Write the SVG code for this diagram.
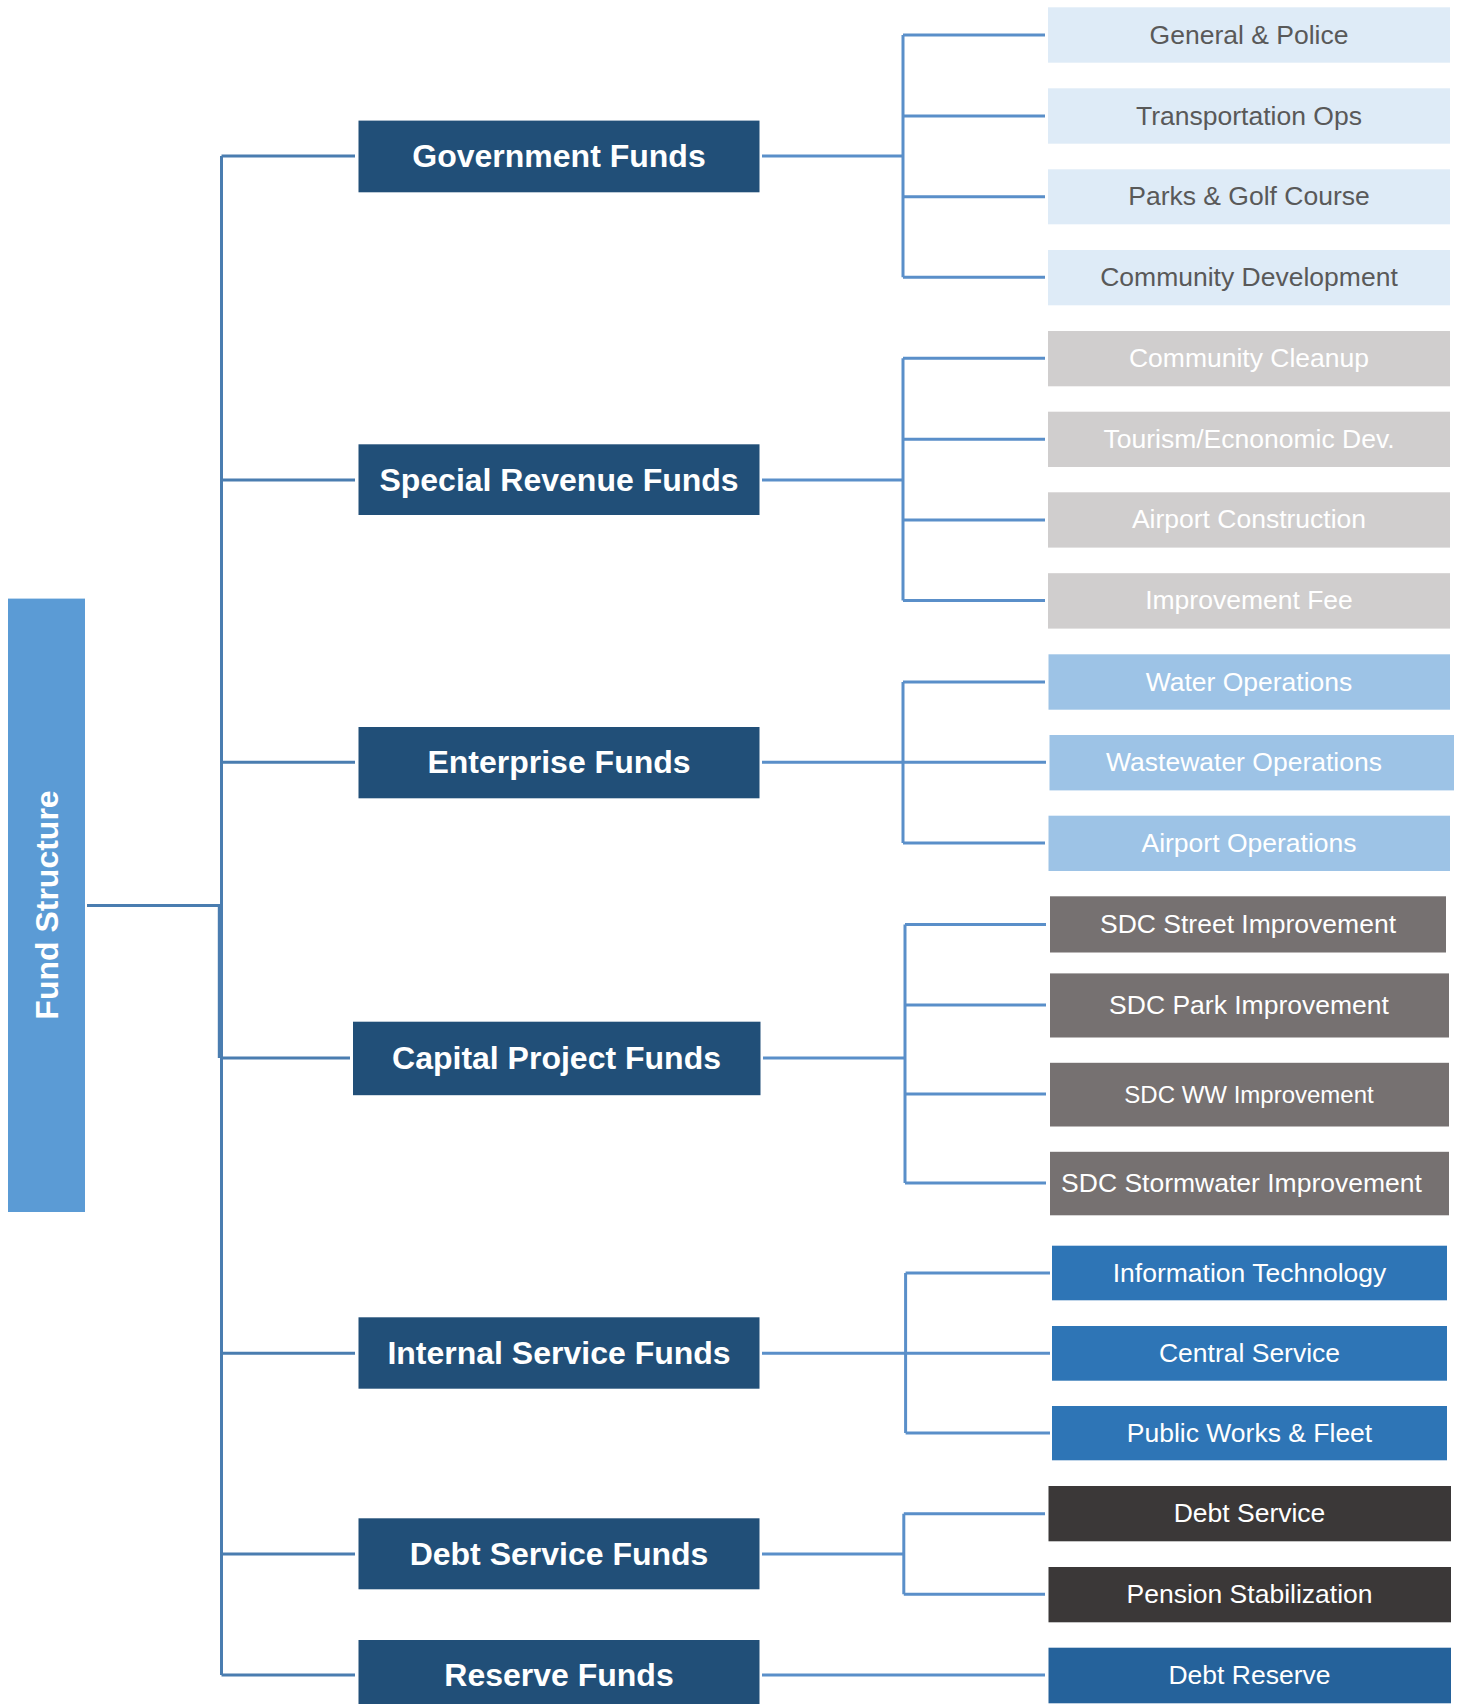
<svg xmlns="http://www.w3.org/2000/svg" width="1458" height="1704" viewBox="0 0 1458 1704">
<style>
  .l1 { fill: #214F78; }
  .l1t { font-family: "Liberation Sans", Arial, sans-serif; font-weight: bold; font-size: 32px; fill: #FFFFFF; text-anchor: middle; }
  .lt { font-family: "Liberation Sans", Arial, sans-serif; font-size: 26.5px; fill: #FFFFFF; text-anchor: middle; }
  .gov { fill: #DEEBF7; }
  .govt { fill: #595959; }
  .sr { fill: #D0CECE; }
  .ent { fill: #9DC3E6; }
  .cap { fill: #767171; }
  .isf { fill: #2E75B6; }
  .dsf { fill: #3B3838; }
  .res { fill: #25629B; }
  .c1 { fill: none; stroke: #4A7DB0; stroke-width: 3; }
  .c2 { fill: none; stroke: #5A8FC9; stroke-width: 3; }
</style>
<rect width="1458" height="1704" fill="#FFFFFF"/>

<g id="connectors">
  <!-- root to level 1 -->
  <path class="c1" d="M87 905.4 H220.5 M219.3 905.4 V1058"/>
  <path class="c1" d="M221.5 156 V1675"/>
  <path class="c1" d="M221.5 156 H355 M221.5 480 H355 M221.5 762.3 H355 M221.5 1058 H350 M221.5 1353.3 H355 M221.5 1554 H355 M221.5 1675 H355"/>
  <!-- government -->
  <path class="c2" d="M762 156 H903 M903 35 V277.3 M903 35 H1045 M903 116 H1045 M903 196.7 H1045 M903 277.3 H1045"/>
  <!-- special revenue -->
  <path class="c2" d="M762 480 H903 M903 358.3 V600.6 M903 358.3 H1045 M903 439.3 H1045 M903 520 H1045 M903 600.6 H1045"/>
  <!-- enterprise -->
  <path class="c2" d="M762 762.3 H1046 M903 682 V843 M903 682 H1045 M903 843 H1045"/>
  <!-- capital -->
  <path class="c2" d="M763 1058 H905 M905 924.4 V1183 M905 924.4 H1046 M905 1005 H1046 M905 1094 H1046 M905 1183 H1046"/>
  <!-- internal -->
  <path class="c2" d="M762 1353.3 H1050 M905.6 1273 V1433 M905.6 1273 H1050 M905.6 1433 H1050"/>
  <!-- debt -->
  <path class="c2" d="M762 1554 H903.8 M903.8 1513.7 V1594.3 M903.8 1513.7 H1045 M903.8 1594.3 H1045"/>
  <!-- reserve -->
  <path class="c2" d="M762 1675 H1045"/>
</g>

<g id="fund-structure">
  <rect x="8" y="598.6" width="77" height="613.4" fill="#5B9BD5"/>
  <text transform="translate(46 905) rotate(-90)" x="0" y="11.5" class="l1t">Fund Structure</text>
</g>

<g id="government-funds">
  <rect class="l1" x="358.5" y="120.6" width="401" height="71.7"/>
  <text class="l1t" x="559" y="167">Government Funds</text>
</g>
<g id="special-revenue-funds">
  <rect class="l1" x="358.5" y="444.3" width="401" height="70.7"/>
  <text class="l1t" x="559" y="490.5">Special Revenue Funds</text>
</g>
<g id="enterprise-funds">
  <rect class="l1" x="358.5" y="727" width="401" height="71.3"/>
  <text class="l1t" x="559" y="773">Enterprise Funds</text>
</g>
<g id="capital-project-funds">
  <rect class="l1" x="353" y="1021.7" width="407.5" height="73.5"/>
  <text class="l1t" x="556.5" y="1069">Capital Project Funds</text>
</g>
<g id="internal-service-funds">
  <rect class="l1" x="358.5" y="1317.3" width="401" height="71.4"/>
  <text class="l1t" x="559" y="1364">Internal Service Funds</text>
</g>
<g id="debt-service-funds">
  <rect class="l1" x="358.5" y="1518.3" width="401" height="71"/>
  <text class="l1t" x="559" y="1565">Debt Service Funds</text>
</g>
<g id="reserve-funds">
  <rect class="l1" x="358.5" y="1640" width="401" height="70"/>
  <text class="l1t" x="559" y="1686">Reserve Funds</text>
</g>

<g id="general-police">
  <rect class="gov" x="1048" y="7.3" width="402" height="55.4"/>
  <text class="lt govt" x="1249" y="43.5">General &amp; Police</text>
</g>
<g id="transportation-ops">
  <rect class="gov" x="1048" y="88.3" width="402" height="55.4"/>
  <text class="lt govt" x="1249" y="124.5">Transportation Ops</text>
</g>
<g id="parks-golf">
  <rect class="gov" x="1048" y="169.3" width="402" height="55"/>
  <text class="lt govt" x="1249" y="205.3">Parks &amp; Golf Course</text>
</g>
<g id="community-development">
  <rect class="gov" x="1048" y="250" width="402" height="55.3"/>
  <text class="lt govt" x="1249" y="286">Community Development</text>
</g>

<g id="community-cleanup">
  <rect class="sr" x="1048" y="331" width="402" height="55.3"/>
  <text class="lt" x="1249" y="367">Community Cleanup</text>
</g>
<g id="tourism">
  <rect class="sr" x="1048" y="411.7" width="402" height="55.3"/>
  <text class="lt" x="1249" y="447.8">Tourism/Ecnonomic Dev.</text>
</g>
<g id="airport-construction">
  <rect class="sr" x="1048" y="492.3" width="402" height="55.3"/>
  <text class="lt" x="1249" y="528.4">Airport Construction</text>
</g>
<g id="improvement-fee">
  <rect class="sr" x="1048" y="573.2" width="402" height="55.4"/>
  <text class="lt" x="1249" y="609.2">Improvement Fee</text>
</g>

<g id="water-operations">
  <rect class="ent" x="1048.5" y="654.3" width="401.5" height="55.4"/>
  <text class="lt" x="1249" y="690.5">Water Operations</text>
</g>
<g id="wastewater-operations">
  <rect class="ent" x="1049.5" y="735" width="404.5" height="55.4"/>
  <text class="lt" x="1244" y="770.8">Wastewater Operations</text>
</g>
<g id="airport-operations">
  <rect class="ent" x="1048.5" y="815.7" width="401.5" height="55.3"/>
  <text class="lt" x="1249" y="851.5">Airport Operations</text>
</g>

<g id="sdc-street">
  <rect class="cap" x="1050" y="896.3" width="396" height="56.2"/>
  <text class="lt" x="1248" y="932.8">SDC Street Improvement</text>
</g>
<g id="sdc-park">
  <rect class="cap" x="1050" y="973.4" width="399" height="64.1"/>
  <text class="lt" x="1249" y="1013.5">SDC Park Improvement</text>
</g>
<g id="sdc-ww">
  <rect class="cap" x="1050" y="1062.8" width="399" height="63.7"/>
  <text class="lt" x="1249" y="1102.5" style="font-size:24px">SDC WW Improvement</text>
</g>
<g id="sdc-stormwater">
  <rect class="cap" x="1050" y="1151.8" width="399" height="63.5"/>
  <text class="lt" x="1241.5" y="1191.5">SDC Stormwater Improvement</text>
</g>

<g id="information-technology">
  <rect class="isf" x="1052" y="1245.7" width="395" height="54.6"/>
  <text class="lt" x="1249.5" y="1281.5">Information Technology</text>
</g>
<g id="central-service">
  <rect class="isf" x="1052" y="1326" width="395" height="54.7"/>
  <text class="lt" x="1249.5" y="1361.8">Central Service</text>
</g>
<g id="public-works-fleet">
  <rect class="isf" x="1052" y="1406" width="395" height="54.3"/>
  <text class="lt" x="1249.5" y="1441.5">Public Works &amp; Fleet</text>
</g>

<g id="debt-service">
  <rect class="dsf" x="1048.5" y="1486" width="402.5" height="55.3"/>
  <text class="lt" x="1249.5" y="1522">Debt Service</text>
</g>
<g id="pension-stabilization">
  <rect class="dsf" x="1048.5" y="1567" width="402.5" height="55.3"/>
  <text class="lt" x="1249.5" y="1603">Pension Stabilization</text>
</g>
<g id="debt-reserve">
  <rect class="res" x="1048.5" y="1647.7" width="402.5" height="55.6"/>
  <text class="lt" x="1249.5" y="1683.8">Debt Reserve</text>
</g>
</svg>
